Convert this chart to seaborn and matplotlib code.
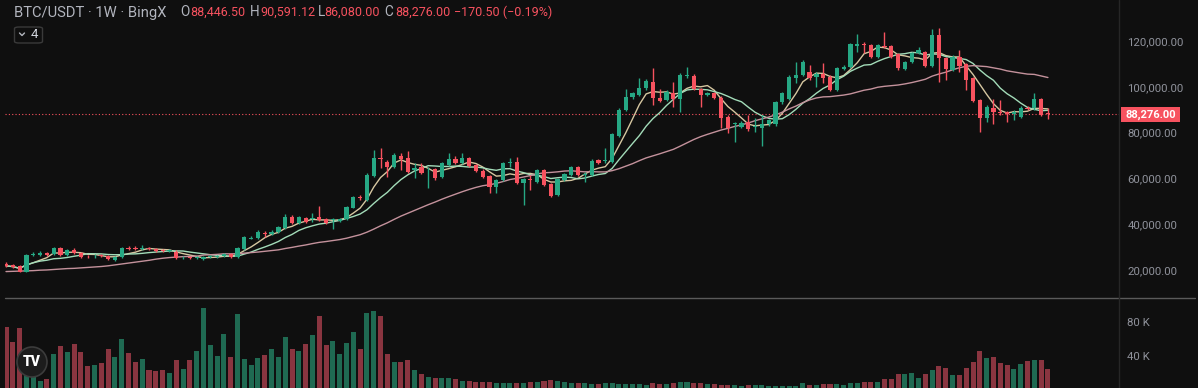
import numpy as np
import pandas as pd
import matplotlib.pyplot as plt
import seaborn as sns
from matplotlib.patches import Rectangle, Ellipse, FancyBboxPatch
from matplotlib.lines import Line2D

# weekly BTC/USDT candles, values in thousands of USDT
open_k = [23.0, 22.4, 22.0, 19.5, 26.9, 26.9, 27.4, 27.1, 29.6, 26.7,
          28.9, 27.7, 26.4, 26.1, 26.7, 26.3, 24.5, 25.7, 29.9, 29.9,
          29.4, 29.6, 29.4, 28.9, 28.4, 28.2, 25.2, 25.6, 25.3, 24.8,
          25.8, 26.0, 26.3, 27.2, 25.7, 29.2, 33.9, 34.0, 36.4, 35.9,
          36.6, 38.4, 43.4, 40.8, 42.7, 42.4, 43.4, 42.3, 41.9, 41.5,
          42.2, 47.3, 52.1, 50.7, 61.1, 68.8, 67.4, 65.2, 69.8, 68.8,
          63.8, 64.9, 63.6, 64.1, 60.8, 65.9, 68.4, 66.9, 68.8, 65.9,
          63.5, 61.1, 56.2, 59.4, 66.9, 67.4, 58.2, 59.9, 58.7, 63.8,
          57.6, 52.9, 59.4, 61.6, 64.9, 61.4, 61.6, 68.1, 67.6, 67.4,
          78.6, 89.9, 95.4, 96.4, 99.3, 102.2, 95.0, 94.2, 97.2, 94.5,
          104.8, 104.7, 98.9, 96.4, 97.2, 95.3, 87.0, 83.8, 82.6, 84.5,
          82.4, 81.9, 83.6, 83.6, 93.2, 94.7, 104.0, 105.1, 106.6, 104.4,
          105.4, 104.4, 98.6, 107.8, 108.8, 117.9, 118.8, 118.2, 113.1, 117.9,
          117.9, 114.1, 107.8, 110.7, 114.6, 115.0, 109.2, 122.6, 112.7, 107.3,
          113.1, 109.8, 103.7, 94.3, 86.3, 90.9, 89.2, 88.9, 88.0, 87.0,
          90.9, 90.6, 94.7, 88.4465]
high_k = [23.8, 23.0, 22.4, 27.2, 28.0, 28.6, 27.9, 30.0, 30.4, 29.3,
          29.6, 28.2, 26.9, 27.0, 27.2, 26.7, 26.4, 30.4, 30.8, 30.8,
          31.0, 30.2, 29.9, 29.4, 29.3, 28.7, 26.1, 26.1, 26.1, 26.1,
          26.5, 26.8, 27.6, 27.6, 30.0, 35.0, 35.2, 37.8, 37.3, 37.4,
          39.2, 44.6, 44.0, 43.9, 43.2, 44.9, 48.0, 42.7, 42.9, 42.9,
          48.2, 52.4, 53.0, 62.3, 72.5, 73.2, 68.0, 71.3, 71.0, 72.2,
          66.7, 66.7, 65.2, 64.8, 67.3, 71.0, 69.8, 71.0, 69.4, 66.4,
          64.0, 61.6, 59.9, 67.4, 68.8, 69.6, 60.1, 61.6, 64.4, 64.4,
          58.2, 60.3, 62.6, 65.5, 65.6, 63.0, 68.4, 68.7, 73.2, 80.0,
          90.6, 98.9, 97.8, 103.7, 103.4, 108.0, 98.9, 98.5, 102.2, 105.8,
          108.8, 105.4, 99.4, 97.8, 97.7, 95.8, 87.5, 84.8, 84.9, 87.7,
          86.3, 87.7, 86.1, 93.8, 97.8, 105.0, 110.9, 111.5, 109.5, 106.6,
          110.2, 105.0, 108.6, 109.4, 119.1, 122.9, 119.7, 118.8, 118.8, 124.0,
          118.4, 114.7, 111.3, 115.2, 117.5, 115.6, 125.2, 125.5, 113.2, 113.7,
          116.0, 110.4, 104.3, 94.9, 91.9, 94.7, 94.3, 89.4, 89.8, 91.5,
          91.5, 97.2, 95.3, 90.59112]
low_k = [21.6, 21.0, 19.2, 19.3, 26.2, 26.3, 26.4, 26.8, 26.3, 26.3,
         27.0, 25.2, 25.6, 25.5, 25.9, 24.4, 24.2, 25.3, 28.9, 29.0,
         28.9, 28.8, 28.1, 28.2, 28.0, 24.9, 24.9, 24.9, 24.9, 24.5,
         25.4, 25.6, 26.0, 25.3, 25.4, 29.0, 33.5, 33.7, 34.4, 35.5,
         36.3, 38.0, 40.3, 40.4, 40.8, 41.2, 41.5, 40.2, 37.9, 41.0,
         41.8, 47.0, 50.8, 50.3, 60.6, 64.5, 60.8, 64.5, 63.8, 62.3,
         60.1, 62.0, 55.8, 59.6, 60.3, 65.4, 66.2, 66.4, 65.0, 63.0,
         60.2, 53.6, 53.9, 58.9, 65.2, 57.6, 48.5, 55.0, 58.1, 56.6,
         51.8, 52.3, 58.9, 61.1, 61.0, 58.7, 61.1, 66.2, 67.0, 66.9,
         78.0, 89.3, 94.5, 96.0, 98.8, 92.1, 93.5, 93.6, 91.3, 89.2,
         103.7, 98.4, 91.3, 95.9, 94.5, 81.9, 79.7, 76.1, 82.0, 80.7,
         80.4, 74.4, 83.1, 83.1, 92.7, 94.2, 101.5, 104.6, 103.0, 100.1,
         101.5, 98.0, 98.0, 107.2, 108.2, 115.3, 114.6, 112.5, 112.5, 116.7,
         112.5, 107.4, 107.2, 110.2, 114.1, 108.6, 108.7, 102.2, 103.0, 106.8,
         106.6, 98.6, 93.2, 80.4, 84.8, 83.6, 87.7, 84.8, 85.5, 86.4,
         89.7, 90.0, 87.1, 86.08]
close_k = [22.0, 21.3, 19.5, 26.7, 27.2, 27.5, 26.9, 29.6, 26.7, 28.9,
           27.4, 26.0, 26.1, 26.4, 26.4, 24.8, 26.0, 29.9, 29.5, 29.5,
           29.8, 29.2, 28.5, 28.6, 28.7, 25.3, 25.5, 25.3, 25.6, 25.7,
           26.0, 26.3, 27.2, 25.7, 29.6, 34.4, 34.3, 36.9, 36.0, 36.9,
           38.8, 43.4, 40.8, 43.1, 41.2, 42.9, 42.0, 40.8, 42.2, 42.4,
           47.5, 52.0, 51.6, 61.6, 68.8, 68.4, 64.9, 70.3, 68.4, 63.0,
           64.5, 62.6, 63.9, 60.1, 66.7, 68.4, 66.7, 68.8, 65.5, 63.5,
           60.8, 56.2, 59.4, 66.7, 67.2, 58.2, 59.7, 59.5, 63.8, 57.2,
           52.4, 59.7, 62.0, 64.9, 61.6, 61.8, 67.8, 66.7, 68.1, 79.4,
           89.9, 95.4, 97.2, 99.3, 102.7, 95.0, 94.0, 97.9, 94.5, 105.1,
           105.1, 98.9, 96.4, 97.2, 95.0, 86.6, 81.9, 84.3, 84.3, 81.6,
           82.8, 83.6, 85.5, 93.2, 97.2, 104.4, 105.1, 110.9, 104.0, 105.4,
           103.7, 98.6, 108.0, 108.8, 118.5, 118.5, 118.2, 113.1, 118.2, 117.3,
           113.1, 108.0, 110.7, 114.6, 116.0, 109.2, 122.6, 112.4, 107.8, 113.1,
           109.2, 103.0, 93.8, 86.3, 91.3, 88.9, 88.4, 88.0, 89.2, 90.9,
           90.3, 94.7, 87.7, 88.276]
# weekly volume, thousands of BTC
volume_k = [73.9, 56.7, 72.6, 16.8, 14.0, 10.0, 11.6, 41.9, 51.5, 44.3,
            53.5, 44.3, 27.6, 28.7, 31.5, 47.5, 37.9, 59.9, 43.5, 32.7,
            35.5, 22.8, 21.6, 22.8, 18.8, 34.7, 23.6, 34.7, 45.5, 96.6,
            52.3, 39.9, 65.9, 38.7, 89.8, 35.5, 28.7, 36.7, 40.7, 47.9,
            38.7, 61.9, 47.9, 45.5, 53.5, 64.3, 87.8, 52.3, 57.5, 42.3,
            54.7, 67.9, 47.9, 91.0, 93.4, 87.8, 42.3, 32.3, 32.3, 34.7,
            22.8, 18.0, 14.0, 12.8, 13.6, 13.6, 11.6, 10.0, 9.2, 8.0,
            8.8, 8.0, 6.8, 6.8, 7.6, 7.6, 7.6, 8.0, 8.8, 9.2,
            10.4, 9.2, 8.8, 7.6, 6.8, 6.8, 6.4, 6.4, 6.8, 6.8,
            6.0, 6.0, 6.0, 6.0, 4.8, 6.8, 6.0, 6.0, 6.8, 8.4,
            8.4, 6.8, 6.8, 6.0, 6.0, 4.8, 4.8, 4.8, 3.6, 4.8,
            4.8, 4.8, 3.6, 4.0, 4.0, 4.0, 4.0, 6.8, 4.8, 4.8,
            5.6, 5.6, 6.0, 4.8, 6.8, 6.8, 8.0, 8.0, 8.0, 11.6,
            11.6, 18.0, 18.0, 19.2, 13.6, 18.0, 22.8, 27.9, 24.7, 16.8,
            16.8, 25.6, 32.7, 45.5, 37.1, 37.9, 31.5, 29.1, 23.6, 29.9,
            33.5, 34.7, 34.7, 23.6]
# 30-week average over the first weeks (its window reaches back before the chart)
ma30_head_k = [19.5, 19.6, 19.7, 19.8, 19.9, 20.1, 20.2, 20.4, 20.6, 20.8,
               20.9, 21.1, 21.3, 21.5, 21.7, 22.0, 22.4, 22.8, 23.2, 23.6,
               24.0, 24.4, 24.9, 25.3, 25.6, 25.8, 26.0, 26.1, 26.2]
ma_windows = [5, 10, 30]
price_ticks = [20000, 40000, 60000, 80000, 100000, 120000]
volume_ticks = [40000, 80000]

BG = "#0f0f0f"
UP = "#26a884"
DOWN = "#f7525f"
TEXT = "#8f929b"
HEAD = "#b2b5be"
MA_COLORS = ["#d6c7a1", "#a3dcb9", "#c4929c"]

sns.set_theme(style="dark", rc={"axes.facecolor": BG, "figure.facecolor": BG})
plt.rcParams["font.family"] = ["Roboto", "DejaVu Sans"]

df = pd.DataFrame({"open": open_k, "high": high_k, "low": low_k,
                   "close": close_k, "volume": volume_k}) * 1000
df["week"] = np.arange(len(df))
df["up"] = df["close"] >= df["open"]
for w in ma_windows:
    df[f"ma{w}"] = df["close"].rolling(w, min_periods=1).mean()
n_head = len(ma30_head_k)
df.loc[:n_head - 1, "ma30"] = np.array(ma30_head_k) * 1000

W, H = 1198, 388
fig = plt.figure(figsize=(W / 100, H / 100), dpi=100)
ax = fig.add_axes([5 / W, 91 / H, 1114 / W, 297 / H])
axv = fig.add_axes([5 / W, 0, 1114 / W, 90 / H])

step = 6.81
xmin = -1 / step
xmax = xmin + 1114 / step

# candles
colors = np.where(df["up"], UP, DOWN)
ax.vlines(df["week"], df["low"], df["high"], colors=colors, lw=1, zorder=3)
body_lo = np.minimum(df["open"], df["close"])
body_h = np.maximum((df["open"] - df["close"]).abs(), 350)
ax.bar(df["week"], body_h, bottom=body_lo, width=0.62, color=colors,
       linewidth=0, zorder=4)

# moving averages
for w, c in zip(ma_windows, MA_COLORS):
    sns.lineplot(data=df, x="week", y=f"ma{w}", ax=ax, color=c, lw=1.0,
                 zorder=2, legend=False)

last_close = df["close"].iloc[-1]
ax.axhline(last_close, color=DOWN, lw=0.8, ls=(0, (1, 2)), zorder=1)

ax.set_xlim(xmin, xmax)
ax.set_ylim(8415, 137818)
ax.yaxis.tick_right()
ax.set_yticks(price_ticks)
ax.set_yticklabels([f"{t:,.2f}" for t in price_ticks])
ax.tick_params(axis="y", length=0, pad=6, labelsize=8.2, labelcolor=TEXT)
ax.set_xticks([])
ax.set_xlabel("")
ax.set_ylabel("")
ax.grid(False)
for s in ax.spines.values():
    s.set_visible(False)

# volume
vol_colors = np.where(df["up"], "#1f6a52", "#8a3540")
axv.bar(df["week"], df["volume"], width=0.74, color=vol_colors, linewidth=0)
axv.set_xlim(xmin, xmax)
axv.set_ylim(1317, 109101)
axv.yaxis.tick_right()
axv.set_yticks(volume_ticks)
axv.set_yticklabels([f"{t // 1000:.0f} K" for t in volume_ticks])
axv.tick_params(axis="y", length=0, pad=6, labelsize=8.2, labelcolor=TEXT)
axv.set_xticks([])
axv.grid(False)
for s in axv.spines.values():
    s.set_visible(False)

# pane separators
fig.add_artist(Line2D([5 / W, 1195 / W], [1 - 298 / H] * 2,
                      transform=fig.transFigure, color="#5a5a5a", lw=1))
fig.add_artist(Line2D([1119 / W] * 2, [0, 1], transform=fig.transFigure,
                      color="#262626", lw=1))

# last price tag
tag_y = 1 - 114.5 / H
fig.add_artist(Rectangle((1121 / W, 1 - 121.7 / H), 59 / W, 14.4 / H,
                         transform=fig.transFigure, facecolor=DOWN,
                         edgecolor="none"))
fig.text(1150.5 / W, tag_y, f"{last_close:,.2f}", color="white", fontsize=8,
         fontweight="bold", ha="center", va="center")

# header
hy = 1 - 12.5 / H
fig.text(14 / W, hy, "BTC/USDT · 1W · BingX", color=HEAD, fontsize=10.6,
         va="center")
o, h, l, c = df.iloc[-1][["open", "high", "low", "close"]]
chg = c - df["open"].iloc[-1]
items = [(180, 190, "O", f"{o:,.2f}"), (249.5, 260, "H", f"{h:,.2f}"),
         (317.5, 324.5, "L", f"{l:,.2f}"), (384.5, 395, "C", f"{c:,.2f}")]
for xk, xv, k, v in items:
    fig.text(xk / W, hy, k, color=HEAD, fontsize=9.8, va="center")
    fig.text(xv / W, hy, v, color=DOWN, fontsize=9.0, va="center")
fig.text(453.5 / W, hy, f"\u2212{abs(chg):.2f} (\u2212{abs(chg) / o * 100:.2f}%)",
         color=DOWN, fontsize=9.0, va="center")

# collapsed indicators button
fig.add_artist(FancyBboxPatch((14.5 / W, 1 - 43 / H), 28 / W, 16 / H,
                              boxstyle="round,pad=0,rounding_size=0.004",
                              transform=fig.transFigure, facecolor=BG,
                              edgecolor="#3a3a3a", lw=1))
fig.add_artist(Line2D([19.5 / W, 22 / W, 24.5 / W],
                      [1 - 33 / H, 1 - 35.5 / H, 1 - 33 / H],
                      transform=fig.transFigure, color=HEAD, lw=1))
fig.text(31 / W, 1 - 34.5 / H, "4", color="#d1d4dc", fontsize=9.5,
         va="center")

# logo
fig.add_artist(Ellipse((32 / W, 1 - 362 / H), 30 / W, 30 / H,
                       transform=fig.transFigure, facecolor="#1c1c1c",
                       edgecolor="#3c3c3c", lw=1.2))
fig.text(32 / W, 1 - 362 / H, "TV", color="white", fontsize=10,
         fontweight="heavy", ha="center", va="center")

fig.savefig("out.png", dpi=100, facecolor=BG)
